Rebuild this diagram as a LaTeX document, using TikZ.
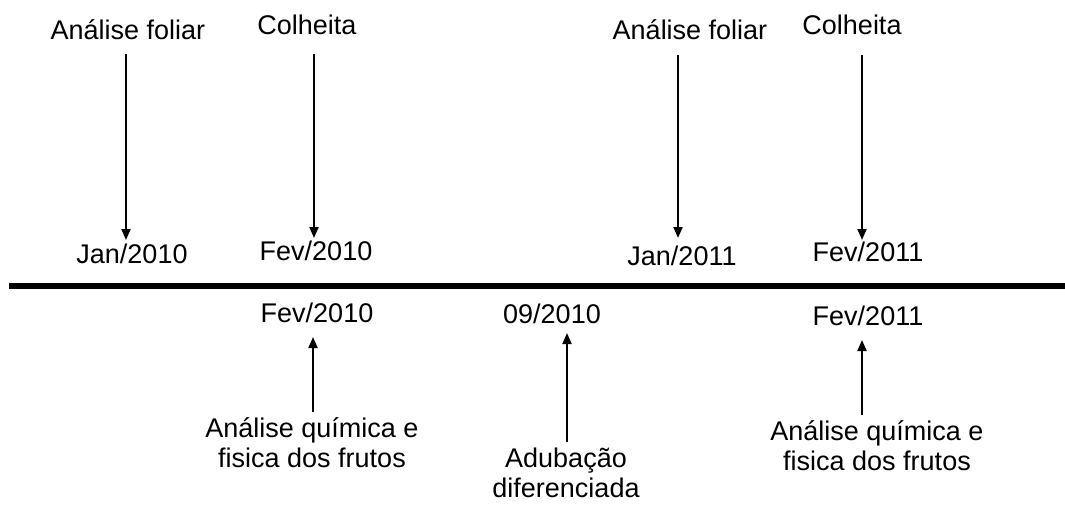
\documentclass[tikz,border=0pt]{standalone}
\usepackage{fontspec}
\setmainfont{Liberation Sans}
\usetikzlibrary{arrows.meta}

\tikzset{
    rotulo/.style={inner sep=0pt, anchor=base, font=\fontsize{27}{30}\selectfont},
    bloco/.style={rotulo, align=center},
    seta/.style={line width=2pt, -{Triangle[length=11pt,width=9pt]}},
}

\begin{document}
\begin{tikzpicture}[x=1pt,y=-1pt]
        \useasboundingbox (0,0) rectangle (1065,513);

        % eventos acima da linha
        \node[rotulo] (af1)  at (128,40)  {Análise foliar};
        \node[rotulo] (col1) at (307,35)  {Colheita};
        \node[rotulo] (af2)  at (690,40)  {Análise foliar};
        \node[rotulo] (col2) at (852,35)  {Colheita};

        \node[rotulo] (jan10) at (132,263) {Jan/2010};
        \node[rotulo] (fev10) at (316,260) {Fev/2010};
        \node[rotulo] (jan11) at (682,265) {Jan/2011};
        \node[rotulo] (fev11) at (868,261) {Fev/2011};

        % linha do tempo
        \coordinate (ini) at (9,286);
        \coordinate (fim) at (1065,286);
        \draw[line width=6pt] (ini) -- (fim);

        % eventos abaixo da linha
        \node[rotulo] (fev10b) at (317,322) {Fev/2010};
        \node[rotulo] (set10)  at (552,323) {09/2010};
        \node[rotulo] (fev11b) at (868,325) {Fev/2011};

        % base = ultima linha do bloco
        \node[bloco] (quim1) at (312,467) {Análise química e\\fisica dos frutos};
        \node[bloco] (adub)  at (566,497) {Adubação\\diferenciada};
        \node[bloco] (quim2) at (877,470) {Análise química e\\fisica dos frutos};

        \draw[seta]
            ([xshift=-2pt,yshift=-14pt]af1.base) -- ([xshift=-6pt,yshift=23pt]jan10.base);
        \draw[seta]
            ([xshift=7pt,yshift=-19pt]col1.base) -- ([xshift=-2pt,yshift=22pt]fev10.base);
        \draw[seta]
            ([xshift=-12pt,yshift=-15pt]af2.base) -- ([xshift=-4pt,yshift=27pt]jan11.base);
        \draw[seta]
            ([xshift=10pt,yshift=-20pt]col2.base) -- ([xshift=-6pt,yshift=21pt]fev11.base);

        \draw[seta]
            ([xshift=1pt,yshift=55pt]quim1.base) -- ([xshift=-4pt,yshift=-15pt]fev10b.base);
        \draw[seta]
            ([xshift=1pt,yshift=55pt]adub.base) -- ([xshift=15pt,yshift=-10pt]set10.base);
        \draw[seta]
            ([xshift=-15pt,yshift=55pt]quim2.base) -- ([xshift=-6pt,yshift=-15pt]fev11b.base);
\end{tikzpicture}
\end{document}
